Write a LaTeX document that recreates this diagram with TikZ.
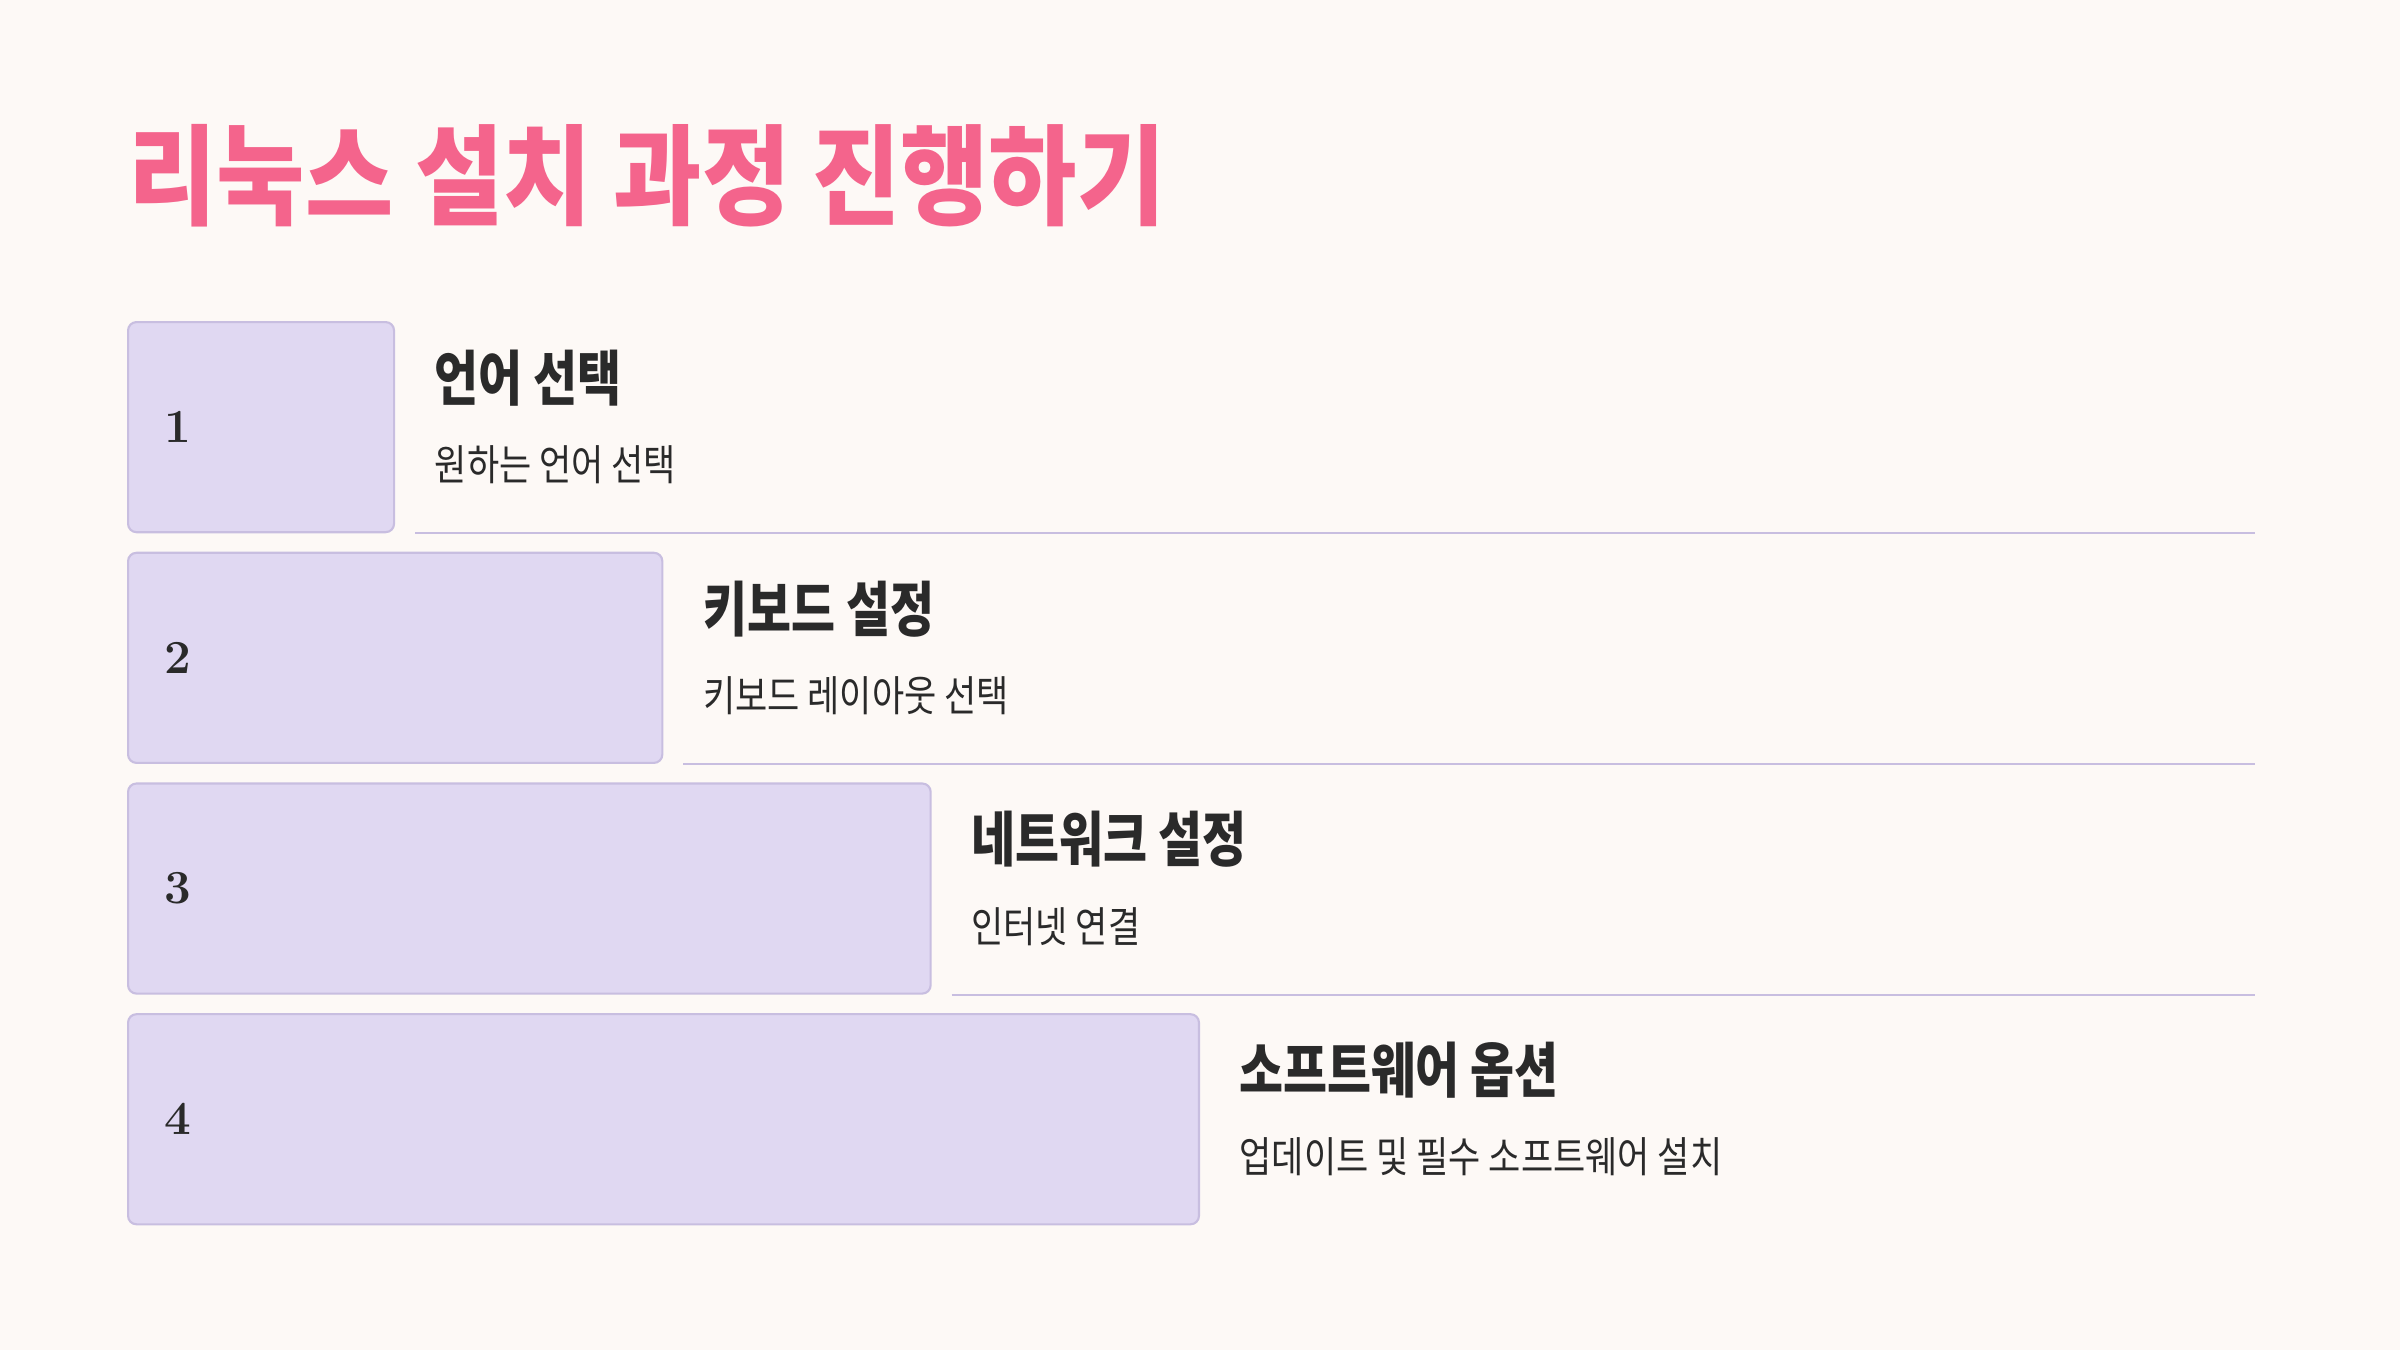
\documentclass[tikz,border=0pt]{standalone}
\usepackage{fontspec}
\newfontfamily\krtitle[FakeStretch=0.88]{Noto Sans CJK KR}
\newfontfamily\krtext[FakeStretch=0.8]{Noto Sans CJK KR}
\newfontfamily\krdesc[FakeStretch=0.83]{Noto Sans CJK KR}
\definecolor{pagebg}{HTML}{FDF9F6}
\definecolor{titlepink}{HTML}{F4648C}
\definecolor{stepfill}{HTML}{E0D8F2}
\definecolor{stepline}{HTML}{C8BEE0}
\definecolor{inktext}{HTML}{2A2A2A}
\tikzset{
  stepbox/.style={draw=stepline, line width=0.6pt, fill=stepfill, rounded corners=2.4pt,
    anchor=north west, inner sep=0pt, minimum height=2.1cm},
  stepnum/.style={anchor=west, inner sep=0pt, text=inktext, font=\fontsize{13.5}{15}\selectfont\bfseries},
  stephead/.style={anchor=west, inner sep=0pt, text=inktext, font=\krtext\fontsize{17}{20}\selectfont\bfseries},
  stepdesc/.style={anchor=west, inner sep=0pt, text=inktext, font=\krdesc\fontsize{12}{14}\selectfont},
  rowline/.style={draw=stepline, line width=0.6pt}
}
\begin{document}
\begin{tikzpicture}[x=0.01cm, y=-0.01cm]
            \newcommand{\boxleft}{127}
            \newcommand{\boxtop}{321}
            \newcommand{\rowstep}{230.7}
            \newcommand{\widthstep}{268.3}
            \newcommand{\lineend}{2255}
            \fill[pagebg] (0,0) rectangle (2400,1350);
            \node[anchor=west, inner sep=0pt, text=titlepink, font=\krtitle\fontsize{31}{36}\selectfont\bfseries] (title) at (128,176) {리눅스 설치 과정 진행하기};
            \foreach \i/\head/\desc in {1/언어 선택/원하는 언어 선택, 2/키보드 설정/키보드 레이아웃 선택,
                                        3/네트워크 설정/인터넷 연결, 4/소프트웨어 옵션/업데이트 및 필수 소프트웨어 설치} {
              \node[stepbox, minimum width={(266+(\i-1)*\widthstep)*0.01cm}] (box\i) at (\boxleft,\boxtop+\rowstep*\i-\rowstep) {};
              \node[stepnum] (num\i) at ([xshift=0.37cm]box\i.west) {\i};
              \node[stephead] (head\i) at ([xshift=0.39cm, yshift=-0.57cm]box\i.north east) {\head};
              \node[stepdesc] (desc\i) at ([xshift=0.39cm, yshift=-1.44cm]box\i.north east) {\desc};
            }
            \foreach \i in {1,2,3} {
              \coordinate (lineend\i) at (\lineend,0 |- box\i.south);
              \draw[rowline] ([xshift=0.2cm]box\i.south east) -- (lineend\i);
            }
\end{tikzpicture}
\end{document}
